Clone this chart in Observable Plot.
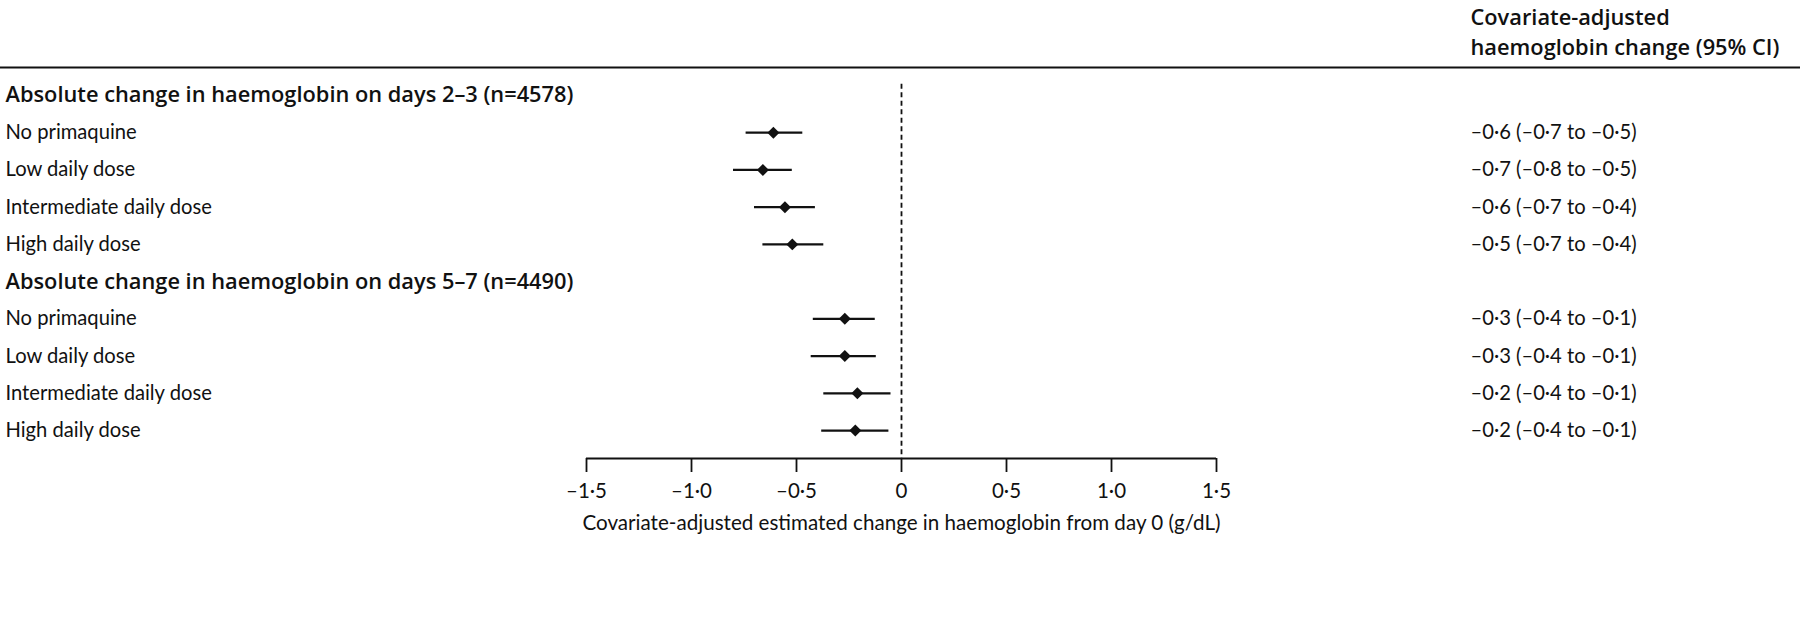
<!DOCTYPE html>
<html>
<head>
<meta charset="utf-8">
<script src="https://cdn.jsdelivr.net/npm/d3@7"></script>
<script src="https://cdn.jsdelivr.net/npm/@observablehq/plot@0.6"></script>
<style>
  html, body { margin: 0; padding: 0; background: #fff; }
  #chart svg { display: block; }
</style>
</head>
<body>
<div id="chart"></div>
<script>
// ---- data ----
const groupTitles = [
  "Absolute change in haemoglobin on days 2–3 (n=4578)",
  "Absolute change in haemoglobin on days 5–7 (n=4490)"
];
const doseLabels = ["No primaquine", "Low daily dose", "Intermediate daily dose", "High daily dose"];
// plotted estimates
const est2 = [-0.61, -0.66, -0.555, -0.52];
const lo2  = [-0.74, -0.80, -0.70, -0.66];
const hi2  = [-0.47, -0.52, -0.41, -0.37];
const est5 = [-0.27, -0.27, -0.21, -0.22];
const lo5  = [-0.42, -0.43, -0.37, -0.38];
const hi5  = [-0.125, -0.12, -0.05, -0.06];
// values printed in the right column
const tabEst2 = [-0.6, -0.7, -0.6, -0.5];
const tabLo2  = [-0.7, -0.8, -0.7, -0.7];
const tabHi2  = [-0.5, -0.5, -0.4, -0.4];
const tabEst5 = [-0.3, -0.3, -0.2, -0.2];
const tabLo5  = [-0.4, -0.4, -0.4, -0.4];
const tabHi5  = [-0.1, -0.1, -0.1, -0.1];
const xTicks = [-1.5, -1.0, -0.5, 0, 0.5, 1.0, 1.5];
const columnHeader = ["Covariate-adjusted", "haemoglobin change (95% CI)"];
const xLabel = "Covariate-adjusted estimated change in haemoglobin from day 0 (g/dL)";

// ---- build rows ----
const fmt = v => v === 0 ? "0" : (v < 0 ? "–" : "") + Math.abs(v).toFixed(1).replace(".", "·");
const groups = [
  {title: groupTitles[0], est: est2, lo: lo2, hi: hi2, te: tabEst2, tl: tabLo2, th: tabHi2},
  {title: groupTitles[1], est: est5, lo: lo5, hi: hi5, te: tabEst5, tl: tabLo5, th: tabHi5}
];
const headers = [];
const rows = [];
let r = 0;
for (const g of groups) {
  headers.push({row: r++, label: g.title});
  doseLabels.forEach((lab, i) => {
    rows.push({row: r++, label: lab, est: g.est[i], lo: g.lo[i], hi: g.hi[i],
      text: `${fmt(g.te[i])} (${fmt(g.tl[i])} to ${fmt(g.th[i])})`});
  });
}

// ---- layout ----
const W = 1800, H = 622;
const axisLeftPx = 586, axisRightPx = 1216;
const pxPerUnit = (axisRightPx - axisLeftPx) / (d3.max(xTicks) - d3.min(xTicks));
const xDomain = [d3.min(xTicks) - axisLeftPx / pxPerUnit, d3.max(xTicks) + (W - axisRightPx) / pxPerUnit];
const yTop = -0.75, yBottom = 9.75;
const font = "Lato, 'Open Sans', sans-serif";
const boldFont = "'Open Sans', Lato, sans-serif";
const ink = "#111";

const chart = Plot.plot({
  width: W, height: H,
  marginLeft: 0, marginRight: 0, marginTop: 67, marginBottom: 164,
  style: {fontFamily: font, fontSize: "20px", color: ink, background: "#fff"},
  x: {type: "linear", domain: xDomain, axis: null},
  y: {type: "linear", domain: [yTop, yBottom], reverse: true, axis: null},
  marks: [
    // top rule
    Plot.ruleY([yTop], {stroke: ink, strokeWidth: 1.8}),
    // zero line
    Plot.ruleX([0], {y1: -0.3, y2: yBottom, stroke: ink, strokeWidth: 1.8, strokeDasharray: "5,3.5"}),
    // axis line
    Plot.ruleY([{y: yBottom, x1: d3.min(xTicks), x2: d3.max(xTicks)}], {y: "y", x1: "x1", x2: "x2", stroke: ink, strokeWidth: 1.8}),
    Plot.axisX(xTicks, {anchor: "bottom", tickSize: 14, tickPadding: 11, tickFormat: fmt, fontSize: 20.5, stroke: ink, strokeWidth: 1.8, color: ink, label: null}),
    Plot.text([xLabel], {x: 0, frameAnchor: "bottom", dy: 71, fontSize: 20.6, fill: ink, text: d => d}),
    // left labels
    Plot.text(headers, {y: "row", text: "label", frameAnchor: "left", textAnchor: "start", dx: 5, fontFamily: boldFont, fontWeight: 600, fontSize: 21.8, fill: ink}),
    Plot.text(rows, {y: "row", text: "label", frameAnchor: "left", textAnchor: "start", dx: 5, fontSize: 20.2, fill: ink}),
    // CIs
    Plot.ruleY(rows, {y: "row", x1: "lo", x2: "hi", stroke: ink, strokeWidth: 2.2}),
    Plot.dot(rows, {x: "est", y: "row", symbol: "diamond2", r: 5.4, fill: ink, stroke: "none"}),
    // right column
    Plot.text(rows, {y: "row", text: "text", frameAnchor: "right", textAnchor: "start", dx: -330, fontSize: 20.2, fill: ink}),
    Plot.text([columnHeader.join("\n")], {text: d => d, frameAnchor: "top-right", textAnchor: "start", lineAnchor: "middle", lineHeight: 1.38, dx: -330, dy: -37.5, fontFamily: boldFont, fontWeight: 600, fontSize: 21.8, fill: ink})
  ]
});
document.getElementById("chart").appendChild(chart);
</script>
</body>
</html>
